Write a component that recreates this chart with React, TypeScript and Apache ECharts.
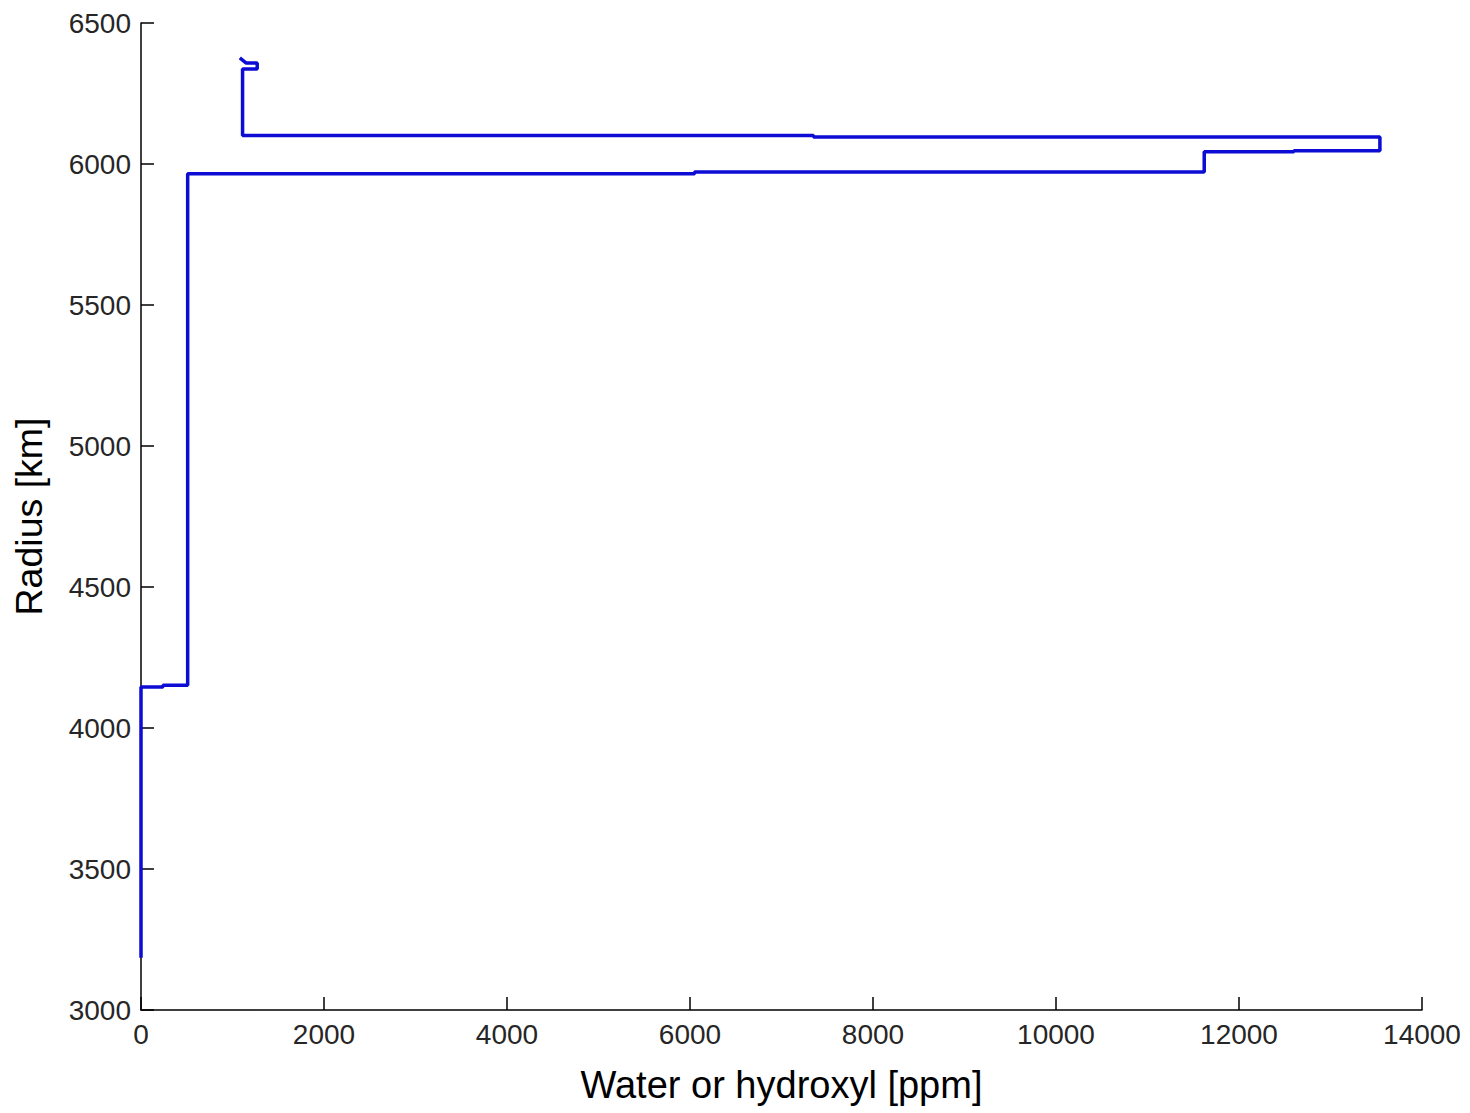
import React, { useEffect, useRef } from "react";
import * as echarts from "echarts";

// Water / hydroxyl content profile: [ppm, radius km], in drawing order
const waterPpm = [
  0, 0, 240, 240, 510, 510, 6050, 6050, 11620, 11620, 12600, 12600, 13540,
  13540, 7350, 7350, 1110, 1110, 1270, 1270, 1150, 1080,
];
const radiusKm = [
  3185, 4145, 4145, 4152, 4152, 5965, 5965, 5972, 5972, 6043, 6043, 6047,
  6047, 6096, 6096, 6101, 6101, 6337, 6337, 6358, 6358, 6376,
];

const xTicks = { min: 0, max: 14000, interval: 2000 };
const yTicks = { min: 3000, max: 6500, interval: 500 };

const xTitle = "Water or hydroxyl [ppm]";
const yTitle = "Radius [km]";

export default function App() {
  const ref = useRef<HTMLDivElement>(null);

  useEffect(() => {
    if (!ref.current) return;
    const chart = echarts.init(ref.current, undefined, { renderer: "svg" });
    const fontFamily = "'Liberation Sans', Arial, Helvetica, sans-serif";
    const axisCommon = {
      axisLine: { show: true, onZero: false, lineStyle: { color: "#000", width: 1.5 } },
      axisTick: { show: true, inside: true, length: 13, lineStyle: { color: "#000", width: 1.5 } },
      splitLine: { show: false },
      nameLocation: "middle" as const,
    };
    const fmt = (v: number) => String(v);
    chart.setOption({
      animation: false,
      backgroundColor: "#fff",
      grid: {
        left: 141,
        right: 48,
        top: 23,
        bottom: 103,
        containLabel: false,
        outerBoundsMode: "none",
      },
      xAxis: {
        type: "value",
        ...xTicks,
        ...axisCommon,
        name: xTitle,
        nameGap: 56,
        nameTextStyle: { fontFamily, fontSize: 38, color: "#000" },
        axisLabel: { fontFamily, fontSize: 28, color: "#262626", margin: 10, formatter: fmt },
      },
      yAxis: {
        type: "value",
        ...yTicks,
        ...axisCommon,
        name: yTitle,
        nameGap: 93,
        nameTextStyle: { fontFamily, fontSize: 37.5, color: "#000" },
        axisLabel: { fontFamily, fontSize: 28, color: "#262626", margin: 10, formatter: fmt },
      },
      series: [
        {
          type: "line",
          data: waterPpm.map((x, i) => [x, radiusKm[i]]),
          showSymbol: false,
          symbol: "none",
          clip: false,
          lineStyle: { color: "#0c0cd4", width: 3.5 },
          z: 5,
        },
      ],
    });
    return () => chart.dispose();
  }, []);

  return (
    <div
      ref={ref}
      style={{ position: "fixed", left: 0, top: 0, width: 1470, height: 1113 }}
    />
  );
}
